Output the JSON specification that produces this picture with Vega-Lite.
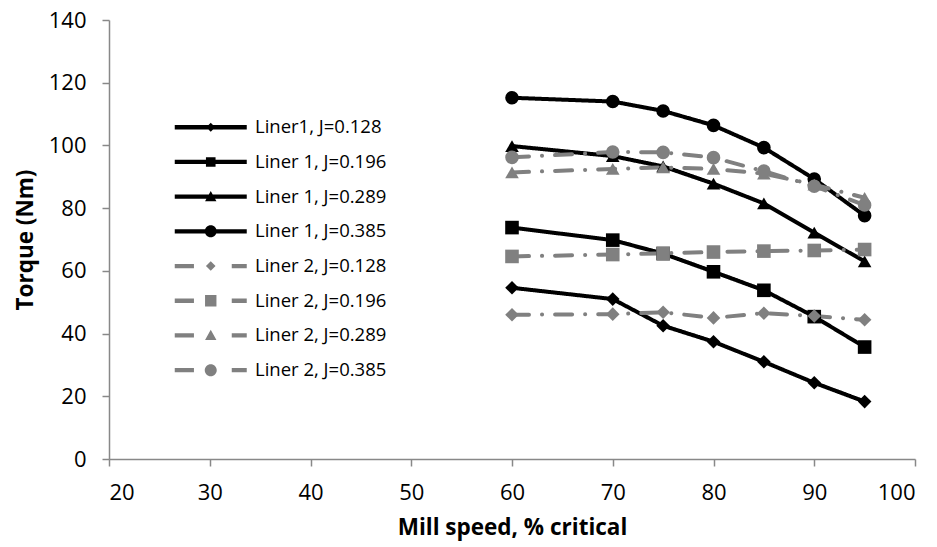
{
  "$schema": "https://vega.github.io/schema/vega-lite/v6.json",
  "width": 806,
  "height": 439,
  "autosize": {"type": "none"},
  "padding": {"left": 109, "top": 20, "right": 22, "bottom": 88},
  "background": "white",
  "config": {
    "view": {"stroke": null},
    "font": "Open Sans",
    "axis": {
      "grid": false,
      "domainColor": "#888888",
      "domainWidth": 1.5,
      "tickColor": "#888888",
      "tickWidth": 1.5,
      "tickSize": 7,
      "labelFont": "Open Sans",
      "labelFontSize": 22,
      "labelColor": "#000000",
      "titleFont": "Open Sans",
      "titleFontSize": 22.5,
      "titleFontWeight": "bold",
      "titleColor": "#000000"
    }
  },
  "data": {
    "values": [
      {"speed": 60, "torque": 54.6, "series": "Liner1, J=0.128"},
      {"speed": 70, "torque": 51.0, "series": "Liner1, J=0.128"},
      {"speed": 75, "torque": 42.5, "series": "Liner1, J=0.128"},
      {"speed": 80, "torque": 37.4, "series": "Liner1, J=0.128"},
      {"speed": 85, "torque": 31.0, "series": "Liner1, J=0.128"},
      {"speed": 90, "torque": 24.3, "series": "Liner1, J=0.128"},
      {"speed": 95, "torque": 18.3, "series": "Liner1, J=0.128"},
      {"speed": 60, "torque": 73.8, "series": "Liner 1, J=0.196"},
      {"speed": 70, "torque": 69.8, "series": "Liner 1, J=0.196"},
      {"speed": 75, "torque": 65.5, "series": "Liner 1, J=0.196"},
      {"speed": 80, "torque": 59.7, "series": "Liner 1, J=0.196"},
      {"speed": 85, "torque": 53.8, "series": "Liner 1, J=0.196"},
      {"speed": 90, "torque": 45.4, "series": "Liner 1, J=0.196"},
      {"speed": 95, "torque": 35.7, "series": "Liner 1, J=0.196"},
      {"speed": 60, "torque": 99.8, "series": "Liner 1, J=0.289"},
      {"speed": 70, "torque": 96.6, "series": "Liner 1, J=0.289"},
      {"speed": 75, "torque": 93.3, "series": "Liner 1, J=0.289"},
      {"speed": 80, "torque": 87.8, "series": "Liner 1, J=0.289"},
      {"speed": 85, "torque": 81.5, "series": "Liner 1, J=0.289"},
      {"speed": 90, "torque": 72.2, "series": "Liner 1, J=0.289"},
      {"speed": 95, "torque": 63.0, "series": "Liner 1, J=0.289"},
      {"speed": 60, "torque": 115.2, "series": "Liner 1, J=0.385"},
      {"speed": 70, "torque": 114.0, "series": "Liner 1, J=0.385"},
      {"speed": 75, "torque": 111.0, "series": "Liner 1, J=0.385"},
      {"speed": 80, "torque": 106.4, "series": "Liner 1, J=0.385"},
      {"speed": 85, "torque": 99.3, "series": "Liner 1, J=0.385"},
      {"speed": 90, "torque": 89.3, "series": "Liner 1, J=0.385"},
      {"speed": 95, "torque": 77.6, "series": "Liner 1, J=0.385"},
      {"speed": 60, "torque": 46.0, "series": "Liner 2, J=0.128"},
      {"speed": 70, "torque": 46.2, "series": "Liner 2, J=0.128"},
      {"speed": 75, "torque": 46.8, "series": "Liner 2, J=0.128"},
      {"speed": 80, "torque": 45.0, "series": "Liner 2, J=0.128"},
      {"speed": 85, "torque": 46.5, "series": "Liner 2, J=0.128"},
      {"speed": 90, "torque": 45.6, "series": "Liner 2, J=0.128"},
      {"speed": 95, "torque": 44.4, "series": "Liner 2, J=0.128"},
      {"speed": 60, "torque": 64.6, "series": "Liner 2, J=0.196"},
      {"speed": 70, "torque": 65.2, "series": "Liner 2, J=0.196"},
      {"speed": 75, "torque": 65.6, "series": "Liner 2, J=0.196"},
      {"speed": 80, "torque": 66.0, "series": "Liner 2, J=0.196"},
      {"speed": 85, "torque": 66.3, "series": "Liner 2, J=0.196"},
      {"speed": 90, "torque": 66.5, "series": "Liner 2, J=0.196"},
      {"speed": 95, "torque": 66.8, "series": "Liner 2, J=0.196"},
      {"speed": 60, "torque": 91.4, "series": "Liner 2, J=0.289"},
      {"speed": 70, "torque": 92.5, "series": "Liner 2, J=0.289"},
      {"speed": 75, "torque": 93.0, "series": "Liner 2, J=0.289"},
      {"speed": 80, "torque": 92.5, "series": "Liner 2, J=0.289"},
      {"speed": 85, "torque": 91.0, "series": "Liner 2, J=0.289"},
      {"speed": 90, "torque": 87.5, "series": "Liner 2, J=0.289"},
      {"speed": 95, "torque": 83.3, "series": "Liner 2, J=0.289"},
      {"speed": 60, "torque": 96.2, "series": "Liner 2, J=0.385"},
      {"speed": 70, "torque": 97.9, "series": "Liner 2, J=0.385"},
      {"speed": 75, "torque": 97.8, "series": "Liner 2, J=0.385"},
      {"speed": 80, "torque": 96.1, "series": "Liner 2, J=0.385"},
      {"speed": 85, "torque": 91.8, "series": "Liner 2, J=0.385"},
      {"speed": 90, "torque": 87.0, "series": "Liner 2, J=0.385"},
      {"speed": 95, "torque": 81.0, "series": "Liner 2, J=0.385"}
    ]
  },
  "encoding": {
    "x": {
      "field": "speed",
      "type": "quantitative",
      "scale": {"domain": [20, 100], "nice": false, "zero": false},
      "axis": {"values": [20, 30, 40, 50, 60, 70, 80, 90, 100], "title": "Mill speed, % critical", "labelPadding": 16, "titlePadding": 13}
    },
    "y": {
      "field": "torque",
      "type": "quantitative",
      "scale": {"domain": [0, 140], "nice": false},
      "axis": {"values": [0, 20, 40, 60, 80, 100, 120, 140], "title": "Torque (Nm)", "labelPadding": 16, "titlePadding": 11}
    },
    "color": {
      "field": "series",
      "type": "nominal",
      "sort": null,
      "scale": {
        "domain": ["Liner1, J=0.128", "Liner 1, J=0.196", "Liner 1, J=0.289", "Liner 1, J=0.385", "Liner 2, J=0.128", "Liner 2, J=0.196", "Liner 2, J=0.289", "Liner 2, J=0.385"],
        "range": ["#000000", "#000000", "#000000", "#000000", "#808080", "#808080", "#808080", "#808080"]
      },
      "legend": {
        "title": null,
        "orient": "none",
        "legendX": 92.5,
        "legendY": 98,
        "padding": 0,
        "symbolSize": 144,
        "symbolStrokeWidth": 0,
        "labelOffset": 35,
        "labelFont": "Open Sans",
        "labelFontSize": 18.5,
        "labelColor": "#000000",
        "rowPadding": 15.7,
        "encode": {
          "symbols": {
            "update": {
              "shape": {"signal": "['M-6,-0.36H6V0.36H-6Z M0,-0.75L0.75,0L0,0.75L-0.75,0Z', 'M-6,-0.36H6V0.36H-6Z M-0.8,-0.8H0.8V0.8H-0.8Z', 'M-6,-0.36H6V0.36H-6Z M0,-0.95L0.95,0.75H-0.95Z', 'M-6,-0.36H6V0.36H-6Z M-1,0A1,1,0,1,1,1,0A1,1,0,1,1,-1,0Z', 'M-6,-0.36H-2.8V0.36H-6Z M3.5,-0.36H6V0.36H3.5Z M0,-0.8L0.8,0L0,0.8L-0.8,0Z', 'M-6,-0.36H-2.8V0.36H-6Z M3.5,-0.36H6V0.36H3.5Z M-0.95,-0.95H0.95V0.95H-0.95Z', 'M-6,-0.36H-2.8V0.36H-6Z M3.5,-0.36H6V0.36H3.5Z M0,-0.95L0.95,0.75H-0.95Z', 'M-6,-0.36H-2.8V0.36H-6Z M3.5,-0.36H6V0.36H3.5Z M-1,0A1,1,0,1,1,1,0A1,1,0,1,1,-1,0Z'][indexof(['Liner1, J=0.128', 'Liner 1, J=0.196', 'Liner 1, J=0.289', 'Liner 1, J=0.385', 'Liner 2, J=0.128', 'Liner 2, J=0.196', 'Liner 2, J=0.289', 'Liner 2, J=0.385'], datum.value)]"},
              "fill": {"signal": "indexof(datum.value, 'Liner 2') === 0 ? '#808080' : '#000000'"},
              "fillOpacity": {"value": 1},
              "opacity": {"value": 1},
              "stroke": {"value": "transparent"},
              "strokeWidth": {"value": 0}
            }
          }
        }
      }
    }
  },
  "layer": [
    {
      "mark": {"type": "line", "strokeWidth": 4, "strokeCap": "round", "strokeJoin": "round"},
      "encoding": {
        "strokeDash": {
          "field": "series",
          "type": "nominal",
          "sort": null,
          "scale": {
            "range": [[1, 0], [1, 0], [1, 0], [1, 0], [17, 13, 0.1, 13], [17, 13, 0.1, 13], [17, 13, 0.1, 13], [17, 13, 0.1, 13]]
          },
          "legend": null
        }
      }
    },
    {
      "mark": {"type": "point", "filled": true, "size": 185, "opacity": 1},
      "encoding": {
        "shape": {
          "field": "series",
          "type": "nominal",
          "sort": null,
          "scale": {
            "range": ["diamond", "square", "triangle-up", "circle", "diamond", "square", "triangle-up", "circle"]
          },
          "legend": null
        }
      }
    }
  ]
}
